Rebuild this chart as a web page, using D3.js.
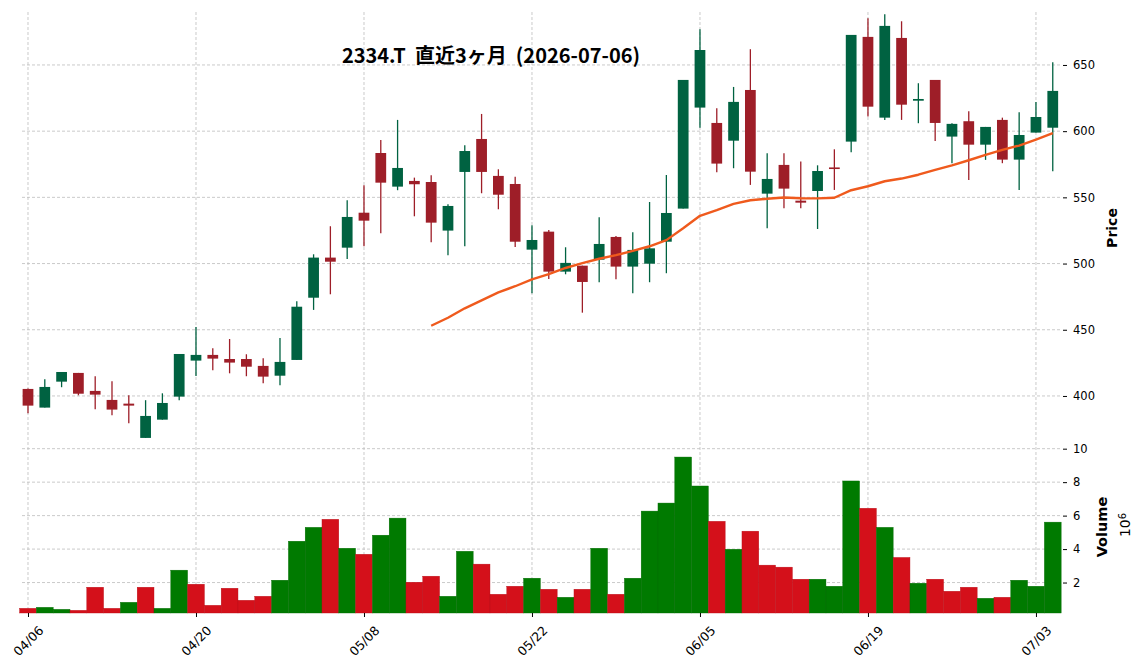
<!DOCTYPE html>
<html><head><meta charset="utf-8">
<script src="https://cdn.jsdelivr.net/npm/d3@7"></script>
<style>body{margin:0;background:#fff} svg{display:block}</style>
</head><body><svg id="c" width="1144" height="670"></svg>
<script>
const titleText = "2334.T  直近3ヶ月  (2026-07-06)";
const dates = [
"04/06","04/07","04/08","04/09","04/10","04/13","04/14","04/15","04/16","04/17",
"04/20","04/21","04/22","04/23","04/24","04/27","04/28","04/30","05/01","05/07",
"05/08","05/11","05/12","05/13","05/14","05/15","05/18","05/19","05/20","05/21",
"05/22","05/25","05/26","05/27","05/28","05/29","06/01","06/02","06/03","06/04",
"06/05","06/08","06/09","06/10","06/11","06/12","06/15","06/16","06/17","06/18",
"06/19","06/22","06/23","06/24","06/25","06/26","06/29","06/30","07/01","07/02",
"07/03","07/06"];
const opens = [
405.3,391.2,410.8,417.4,403.8,397.0,394.2,368.3,382.1,399.5,
426.7,431.0,427.9,427.9,422.7,415.3,427.2,474.2,504.5,512.0,
538.4,583.5,558.1,562.4,561.6,524.9,569.2,594.1,566.2,560.1,
510.5,524.1,493.9,498.4,502.9,520.1,497.7,499.9,516.5,541.5,
617.8,606.2,592.8,631.1,552.8,574.5,547.5,554.8,572.6,592.1,
671.2,610.2,670.4,623.0,638.7,595.9,607.5,589.8,608.5,578.5,
598.9,602.6];
const highs = [
405.6,412.6,418.1,417.4,414.9,411.1,400.5,396.8,402.0,431.7,
452.1,436.0,443.0,431.5,428.5,443.8,471.5,507.0,528.2,547.8,
559.1,593.4,608.5,564.9,566.7,544.8,589.4,613.0,571.2,565.6,
528.9,525.4,512.3,498.4,535.0,520.8,523.6,546.5,566.9,638.7,
677.0,617.3,633.4,661.9,583.3,583.3,577.0,574.2,586.3,672.7,
685.3,688.3,683.0,636.2,638.7,606.0,615.0,603.2,610.2,614.3,
622.1,652.0];
const lows = [
386.9,391.2,406.6,400.5,390.0,385.4,379.4,368.3,382.1,396.8,
415.1,419.4,417.1,414.9,409.6,408.1,427.2,465.0,476.8,503.5,
513.1,522.9,555.4,535.7,516.1,506.3,513.1,553.1,541.0,512.5,
477.6,488.4,491.9,462.9,485.9,488.1,477.6,485.9,492.7,541.5,
602.6,569.0,572.0,559.4,526.7,541.8,541.8,526.1,555.6,584.1,
611.0,608.5,608.5,606.0,592.6,575.8,563.1,578.3,575.8,555.6,
598.9,569.7];
const closes = [
392.7,406.8,418.1,401.7,401.0,389.7,392.7,384.9,394.7,431.7,
431.0,428.2,425.2,422.1,414.6,425.7,467.4,504.5,501.4,535.2,
532.4,561.1,572.2,559.9,530.9,543.5,585.0,569.2,552.0,516.5,
517.8,493.9,500.5,486.1,514.8,497.7,510.3,511.5,538.2,638.7,
661.3,575.5,622.1,569.4,563.9,556.6,546.0,569.9,571.8,672.7,
618.5,679.5,620.0,624.3,606.2,605.5,589.8,603.2,578.5,597.1,
610.7,630.4];
// volume in millions (x10^6)
const volumes = [
0.46,0.52,0.40,0.34,1.72,0.46,0.82,1.72,0.46,2.74,
1.90,0.64,1.66,0.94,1.18,2.14,4.47,5.30,5.78,4.05,
3.69,4.83,5.85,2.02,2.38,1.18,3.87,3.10,1.30,1.78,
2.26,1.60,1.12,1.60,4.05,1.30,2.26,6.27,6.75,9.50,
7.77,5.66,3.99,5.07,3.04,2.92,2.20,2.20,1.78,8.07,
6.44,5.30,3.50,1.96,2.20,1.48,1.72,1.06,1.12,2.14,
1.78,5.61];
const priceTicks = [400,450,500,550,600,650];
const volumeTicks = [2,4,6,8,10];
const dateTickIdx = [0,10,20,30,40,50,60];
const maPeriod = 25;

const C = {
  upCandle: "#006241", downCandle: "#9e1e28",
  upVol: "#007a00", downVol: "#d4101a",
  ma: "#ef5a1d", grid: "#bdbdbd"
};

const svg = d3.select("#c");
const n = dates.length;
const x = d3.scaleLinear().domain([-0.357, 61.55]).range([22, 1062]);
const yP = d3.scaleLinear().domain([362.2, 690]).range([446, 12]);
const yV = d3.scaleLinear().domain([0.18, 10.16]).range([613, 446]);
const step = x(1) - x(0);

// grid
const grid = svg.append("g");
grid.selectAll(".hp").data(priceTicks).join("line")
  .attr("x1", 22).attr("x2", 1062).attr("y1", d => yP(d)).attr("y2", d => yP(d));
grid.selectAll(".hv").data(volumeTicks).join("line").attr("class","hv")
  .attr("x1", 22).attr("x2", 1062).attr("y1", d => yV(d)).attr("y2", d => yV(d));
grid.selectAll(".vx").data(dateTickIdx).join("line").attr("class","vx")
  .attr("x1", d => x(d)).attr("x2", d => x(d)).attr("y1", 12).attr("y2", 613);
grid.selectAll("line").attr("stroke", C.grid).attr("stroke-width", 0.8).attr("stroke-dasharray", "3,2");

// volume bars (colour by close vs previous close)
const volUp = closes.map((c, i) => i === 0 ? c >= opens[0] : c >= closes[i - 1]);
svg.append("g").selectAll("rect").data(volumes).join("rect")
  .attr("x", (d, i) => x(i) - step / 2)
  .attr("width", step)
  .attr("y", d => yV(d))
  .attr("height", d => yV.range()[0] - yV(d))
  .attr("fill", (d, i) => volUp[i] ? C.upVol : C.downVol)
  .attr("stroke", (d, i) => volUp[i] ? "#006a00" : "#b80e18")
  .attr("stroke-width", 0.4);

// candles
const cg = svg.append("g");
const bodyW = step * 0.64;
const idx = d3.range(n);
const col = i => closes[i] >= opens[i] ? C.upCandle : C.downCandle;
cg.selectAll(".wick").data(idx).join("line").attr("class","wick")
  .attr("x1", i => x(i)).attr("x2", i => x(i))
  .attr("y1", i => yP(highs[i])).attr("y2", i => yP(lows[i]))
  .attr("stroke", col).attr("stroke-width", 1.3);
cg.selectAll(".body").data(idx).join("rect").attr("class","body")
  .attr("x", i => x(i) - bodyW / 2).attr("width", bodyW)
  .attr("y", i => yP(Math.max(opens[i], closes[i])))
  .attr("height", i => Math.max(1.6, Math.abs(yP(opens[i]) - yP(closes[i]))))
  .attr("fill", col);

// moving average
const ma = closes.map((c, i) => i < maPeriod - 1 ? null : d3.mean(closes.slice(i - maPeriod + 1, i + 1)));
svg.append("path")
  .datum(idx.filter(i => ma[i] !== null))
  .attr("fill", "none").attr("stroke", C.ma).attr("stroke-width", 2.4)
  .attr("stroke-linejoin", "round")
  .attr("d", d3.line().x(i => x(i)).y(i => yP(ma[i])));

// right axes
const font = "DejaVu Sans, sans-serif";
function styleAxis(g, size) {
  g.select(".domain").remove();
  g.selectAll(".tick line").attr("stroke", "#000").attr("stroke-width", 1);
  g.selectAll(".tick text").attr("fill", "#000").style("font-family", font).style("font-size", size);
}
svg.append("g").attr("transform", "translate(1063,0)")
  .call(d3.axisRight(yP).tickValues(priceTicks).tickSize(4).tickPadding(6)).call(styleAxis, "11.5px");
svg.append("g").attr("transform", "translate(1063,0)")
  .call(d3.axisRight(yV).tickValues(volumeTicks).tickSize(4).tickPadding(6)).call(styleAxis, "11.5px");

// bottom axis
const xa = svg.append("g").attr("transform", "translate(0,613)")
  .call(d3.axisBottom(x).tickValues(dateTickIdx).tickFormat(i => dates[i]).tickSize(4));
styleAxis(xa, "12.5px");
xa.selectAll(".tick text").attr("y", 0).attr("dy", "0.35em")
  .attr("text-anchor", "middle").attr("transform", "translate(0,28) rotate(-45)");

// labels
svg.append("text").attr("transform", "translate(1117,228) rotate(-90)")
  .attr("text-anchor", "middle").style("font-family", font).style("font-weight", "bold")
  .style("font-size", "14px").text("Price");
svg.append("text").attr("transform", "translate(1107,527) rotate(-90)")
  .attr("text-anchor", "middle").style("font-family", font).style("font-weight", "bold")
  .style("font-size", "14.5px").text("Volume");
const off = svg.append("text").attr("transform", "translate(1130,525) rotate(-90)")
  .attr("text-anchor", "middle").style("font-family", font).style("font-size", "14px");
off.append("tspan").text("10");
off.append("tspan").attr("dy", "-0.45em").style("font-size", "10px").text("6");

svg.append("text").attr("x", 491).attr("y", 63).attr("text-anchor", "middle")
  .attr("xml:space", "preserve").style("white-space", "pre")
  .style("font-family", "'Noto Sans CJK JP', sans-serif").style("font-weight", "bold")
  .style("font-size", "20px").text(titleText);
</script></body></html>
